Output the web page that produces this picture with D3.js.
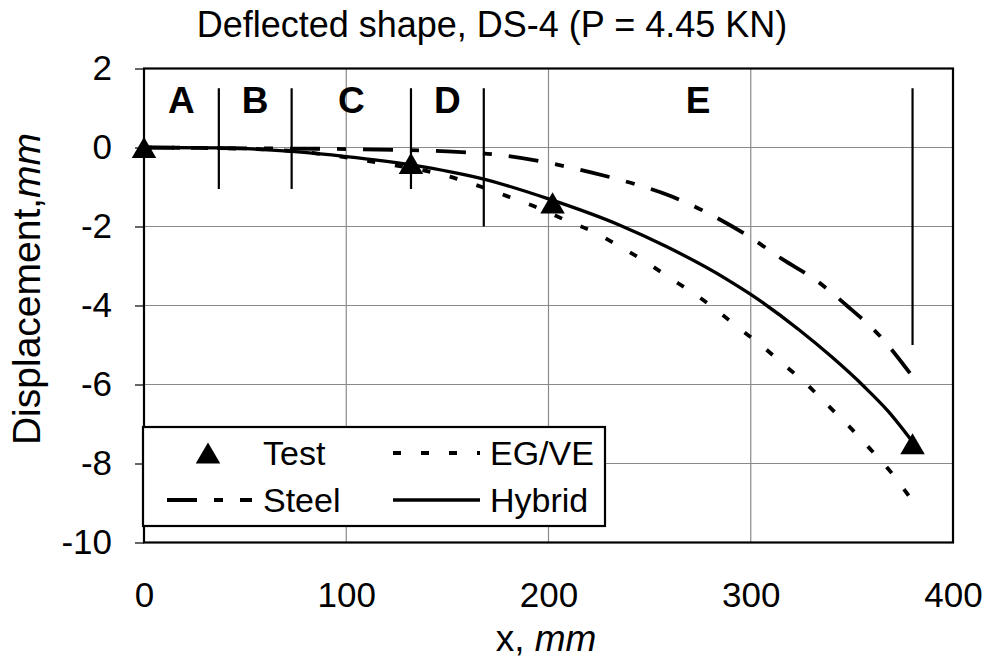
<!DOCTYPE html>
<html><head><meta charset="utf-8">
<script src="https://cdn.jsdelivr.net/npm/d3@7"></script>
<style>
body{margin:0;background:#fff}
svg{display:block}
text{font-family:Arial,"Liberation Sans",sans-serif;fill:#000}
</style>
</head><body>
<svg id="chart" width="986" height="664"></svg>
<script>
// ---------- data ----------
const chartTitle = "Deflected shape, DS-4 (P = 4.45 KN)";
const xTicks = [0, 100, 200, 300, 400];
const yTicks = [2, 0, -2, -4, -6, -8, -10];

const testX = [0, 132, 202, 380];
const testY = [0, -0.4, -1.4, -7.5];

const hybridX = [0, 37, 73, 100, 132, 168, 200, 235, 258, 288, 300, 324, 340, 356, 368, 380];
const hybridY = [0, -0.01, -0.1, -0.23, -0.44, -0.8, -1.3, -1.96, -2.5, -3.33, -3.72, -4.62, -5.3, -6.05, -6.68, -7.45];

const steelX = [0, 50, 100, 150, 174, 202, 221, 241, 261, 281, 299, 316, 332, 347, 364, 380];
const steelY = [0, -0.02, -0.04, -0.1, -0.18, -0.41, -0.63, -0.9, -1.24, -1.72, -2.25, -2.84, -3.35, -3.98, -4.78, -5.8];

const egveX = [0, 50, 80, 112, 154, 167, 181, 195, 208, 222, 235, 248, 259, 272, 283, 294, 305, 316, 327, 338, 349, 359, 369, 380];
const egveY = [0, -0.03, -0.12, -0.35, -0.78, -1.0, -1.26, -1.53, -1.83, -2.13, -2.5, -2.89, -3.27, -3.7, -4.11, -4.57, -5.0, -5.48, -5.96, -6.52, -7.08, -7.63, -8.2, -8.95];

const regionLabels = ["A", "B", "C", "D", "E"];
const regionBounds = [0, 37, 73, 132, 168, 380];
const regionLineTop = 1.5;
const regionLineBottom = [-1.05, -1.05, -1.05, -2, -5];

const legendNames = ["Test", "Steel", "EG/VE", "Hybrid"];

// ---------- layout ----------
const W = 986, H = 664;
const m = {left: 144, top: 68.5, right: 33, bottom: 121.5};
const svg = d3.select("#chart");
const x = d3.scaleLinear().domain([0, 400]).range([m.left, W - m.right]);
const y = d3.scaleLinear().domain([-10, 2]).range([H - m.bottom, m.top]);

const FONT = 35;
const fmt = d => String(d);

// gridlines
const grid = svg.append("g");
grid.selectAll("line.gx").data(xTicks.slice(1, -1)).join("line")
  .attr("x1", d => x(d)).attr("x2", d => x(d))
  .attr("y1", y(2)).attr("y2", y(-10))
  .attr("stroke", "#8a8a8a").attr("stroke-width", 1.2);
grid.selectAll("line.gy").data(yTicks.slice(1, -1)).join("line")
  .attr("x1", x(0)).attr("x2", x(400))
  .attr("y1", d => y(d)).attr("y2", d => y(d))
  .attr("stroke", "#8a8a8a").attr("stroke-width", 1.2);

// y axis ticks + labels
const yAxis = d3.axisLeft(y).tickValues(yTicks).tickSize(9).tickPadding(23).tickFormat(fmt);
const gy = svg.append("g").attr("transform", `translate(${x(0)},0)`).call(yAxis);
gy.select(".domain").remove();
gy.selectAll(".tick line").attr("stroke", "#000").attr("stroke-width", 1.2);
gy.selectAll(".tick text").attr("font-size", FONT).attr("font-family", "Arial, 'Liberation Sans', sans-serif").attr("fill", "#000");

// x axis labels
const xAxis = d3.axisBottom(x).tickValues(xTicks).tickSize(0).tickPadding(40).tickFormat(fmt);
const gx = svg.append("g").attr("transform", `translate(0,${y(-10)})`).call(xAxis);
gx.select(".domain").remove();
gx.selectAll(".tick text").attr("font-size", FONT).attr("font-family", "Arial, 'Liberation Sans', sans-serif").attr("fill", "#000");

// region separators
svg.append("g").selectAll("line").data(regionBounds.slice(1)).join("line")
  .attr("x1", d => x(d)).attr("x2", d => x(d))
  .attr("y1", y(regionLineTop)).attr("y2", (d, i) => y(regionLineBottom[i]))
  .attr("stroke", "#000").attr("stroke-width", 2.2);
svg.append("g").selectAll("text").data(regionLabels).join("text")
  .attr("x", (d, i) => x((regionBounds[i] + regionBounds[i + 1]) / 2))
  .attr("y", y(1.2) + 13)
  .attr("text-anchor", "middle").attr("font-weight", "bold").attr("font-size", 37)
  .text(d => d);

// curves
const line = d3.line().x(d => x(d[0])).y(d => y(d[1])).curve(d3.curveMonotoneX);
const zip = (a, b) => a.map((v, i) => [v, b[i]]);
svg.append("path").datum(zip(egveX, egveY)).attr("d", line)
  .attr("fill", "none").attr("stroke", "#000").attr("stroke-width", 3.8).attr("stroke-dasharray", "8,20");
svg.append("path").datum(zip(steelX, steelY)).attr("d", line)
  .attr("fill", "none").attr("stroke", "#000").attr("stroke-width", 3.8).attr("stroke-dasharray", "30,17,9,17");
svg.append("path").datum(zip(hybridX, hybridY)).attr("d", line)
  .attr("fill", "none").attr("stroke", "#000").attr("stroke-width", 3.3);

// triangle centred on its bounding box (Excel style)
const triBox = {
  draw(ctx, size) {
    const s = Math.sqrt(size * 4 / Math.sqrt(3));
    const h = s * Math.sqrt(3) / 2;
    ctx.moveTo(0, -h / 2);
    ctx.lineTo(s / 2, h / 2);
    ctx.lineTo(-s / 2, h / 2);
    ctx.closePath();
  }
};
const tri = d3.symbol().type(triBox).size(260);
svg.append("g").selectAll("path").data(zip(testX, testY)).join("path")
  .attr("d", tri).attr("transform", d => `translate(${x(d[0])},${y(d[1])})`)
  .attr("fill", "#000");

// plot border
svg.append("rect").attr("x", x(0)).attr("y", y(2))
  .attr("width", x(400) - x(0)).attr("height", y(-10) - y(2))
  .attr("fill", "none").attr("stroke", "#000").attr("stroke-width", 2.2);

// legend
const lg = svg.append("g");
lg.append("rect").attr("x", 143).attr("y", 427).attr("width", 462).attr("height", 99)
  .attr("fill", "#fff").attr("stroke", "#000").attr("stroke-width", 2.2);
const rows = [453, 500];
lg.append("path").attr("d", tri).attr("transform", `translate(208,${rows[0]})`).attr("fill", "#000");
lg.append("line").attr("x1", 167).attr("x2", 252).attr("y1", rows[1]).attr("y2", rows[1])
  .attr("stroke", "#000").attr("stroke-width", 3.8).attr("stroke-dasharray", "30,17,9,17");
lg.append("line").attr("x1", 393).attr("x2", 480).attr("y1", rows[0]).attr("y2", rows[0])
  .attr("stroke", "#000").attr("stroke-width", 3.8).attr("stroke-dasharray", "8,20");
lg.append("line").attr("x1", 393).attr("x2", 480).attr("y1", rows[1]).attr("y2", rows[1])
  .attr("stroke", "#000").attr("stroke-width", 3.3);
const legPos = [[263, rows[0]], [263, rows[1]], [490, rows[0]], [490, rows[1]]];
lg.selectAll("text").data(legendNames).join("text")
  .attr("x", (d, i) => legPos[i][0]).attr("y", (d, i) => legPos[i][1] + 12)
  .attr("font-size", 34).text(d => d);

// title
svg.append("text").attr("x", 492).attr("y", 37).attr("text-anchor", "middle")
  .attr("font-size", 36).text(chartTitle);

// axis titles
const xt = svg.append("text").attr("x", 546).attr("y", 651).attr("text-anchor", "middle").attr("font-size", 37);
xt.append("tspan").text("x, ");
xt.append("tspan").attr("font-style", "italic").text("mm");

const yt = svg.append("text").attr("transform", "translate(40,289) rotate(-90)")
  .attr("text-anchor", "middle").attr("font-size", 39);
yt.append("tspan").text("Displacement,");
yt.append("tspan").attr("font-style", "italic").text("mm");
</script>
</body></html>
